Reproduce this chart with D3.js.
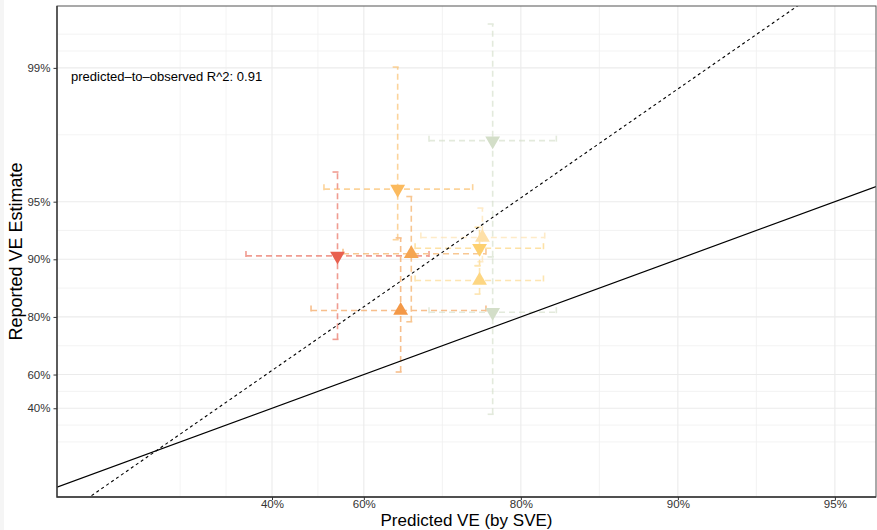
<!DOCTYPE html>
<html>
<head>
<meta charset="utf-8">
<script src="https://cdn.jsdelivr.net/npm/d3@7"></script>
<style>
  html, body { margin: 0; padding: 0; background: #ffffff; }
  svg { display: block; font-family: "Liberation Sans", Arial, sans-serif; }
</style>
</head>
<body>
<svg id="chart" width="877" height="530"></svg>
<script>
// ---------------- data (VE as fractions) ----------------
const pointIds   = ["A", "B", "C", "D", "E", "F", "G", "H", "I"];
const predVE     = [0.7735, 0.6555, 0.5507, 0.6756, 0.7630, 0.7600, 0.7600, 0.6600, 0.7735];
const predLo     = [0.700,  0.523,  0.327,  0.5615, 0.689,  0.681,  0.681,  0.495,  0.700];
const predHi     = [0.829,  0.7526, 0.700,  0.7667, 0.820,  0.819,  0.819,  0.7667, 0.829];
const reportVE   = [0.976,  0.957,  0.904,  0.9065, 0.923,  0.9125, 0.871,  0.815,  0.811];
const reportLo   = [0.903,  0.921,  0.738,  0.788,  0.897,  0.892,  0.848,  0.612,  0.355];
const reportHi   = [0.9941, 0.9901, 0.965,  0.953,  0.946,  0.932,  0.892,  0.9227, 0.903];
const direction  = ["down", "down", "down", "up", "up", "down", "up", "up", "down"];
const pointColor = ["#D3DEC8", "#FBBA5E", "#E8604F", "#F5A551", "#FEE0A8", "#FDD06F", "#FDD682", "#F39847", "#D3DEC8"];

const xTicks  = [0.40, 0.60, 0.80, 0.90, 0.95];
const yTicks  = [0.40, 0.60, 0.80, 0.90, 0.95, 0.99];
const xLimits = [-0.55, 0.9583];
const yLimits = [-0.745, 0.99525];

const fitSlope = 1.89;      // predicted-to-observed fit (transformed scale)
const fitIntercept = 0;
const r2Label = "predicted\u2013to\u2013observed R^2: 0.91";
const xTitle = "Predicted VE (by SVE)";
const yTitle = "Reported VE Estimate";

// ---------------- layout ----------------
const panel = { left: 57, right: 876, top: 6, bottom: 497 };
const tf = p => -Math.log(1 - p);

const x = d3.scaleLinear().domain(xLimits.map(tf)).range([panel.left, panel.right]);
const y = d3.scaleLinear().domain(yLimits.map(tf)).range([panel.bottom, panel.top]);

// ggplot-style minor breaks (midpoints, extended by one step)
function minorBreaks(majorT, dom) {
  let b = majorT.slice();
  const bd = b[1] - b[0];
  if (dom[0] < b[0]) b = [b[0] - bd].concat(b);
  if (dom[1] > b[b.length - 1]) b = b.concat([b[b.length - 1] + bd]);
  const out = [];
  for (let i = 0; i < b.length - 1; i++) { out.push(b[i]); out.push((b[i] + b[i + 1]) / 2); }
  out.push(b[b.length - 1]);
  return out.filter(v => v >= dom[0] && v <= dom[1] && !majorT.some(m => Math.abs(m - v) < 1e-9));
}

const svg = d3.select("#chart");
svg.append("rect").attr("x", 0).attr("y", 0).attr("width", 877).attr("height", 530).attr("fill", "#ffffff");
svg.append("rect").attr("x", 0).attr("y", 0).attr("width", 4).attr("height", 530).attr("fill", "#f5f5f5");

svg.append("defs").append("clipPath").attr("id", "clip")
  .append("rect").attr("x", panel.left).attr("y", panel.top)
  .attr("width", panel.right - panel.left).attr("height", panel.bottom - panel.top);

const xMajT = xTicks.map(tf), yMajT = yTicks.map(tf);
const xMinT = minorBreaks(xMajT, x.domain());
const yMinT = minorBreaks(yMajT, y.domain());

const grid = svg.append("g");
grid.selectAll(".xmin").data(xMinT).join("line")
  .attr("x1", d => x(d)).attr("x2", d => x(d)).attr("y1", panel.top).attr("y2", panel.bottom)
  .attr("stroke", "#f0f0f0").attr("stroke-width", 0.8);
grid.selectAll(".ymin").data(yMinT).join("line")
  .attr("y1", d => y(d)).attr("y2", d => y(d)).attr("x1", panel.left).attr("x2", panel.right)
  .attr("stroke", "#f0f0f0").attr("stroke-width", 0.8);
grid.selectAll(".xmaj").data(xMajT).join("line")
  .attr("x1", d => x(d)).attr("x2", d => x(d)).attr("y1", panel.top).attr("y2", panel.bottom)
  .attr("stroke", "#ebebeb").attr("stroke-width", 1.1);
grid.selectAll(".ymaj").data(yMajT).join("line")
  .attr("y1", d => y(d)).attr("y2", d => y(d)).attr("x1", panel.left).attr("x2", panel.right)
  .attr("stroke", "#ebebeb").attr("stroke-width", 1.1);

const data = pointIds.map((id, i) => ({
  id, px: tf(predVE[i]), pl: tf(predLo[i]), ph: tf(predHi[i]),
  ry: tf(reportVE[i]), rl: tf(reportLo[i]), rh: tf(reportHi[i]),
  dir: direction[i], col: pointColor[i]
}));

const plot = svg.append("g").attr("clip-path", "url(#clip)");
const capHalf = 5;
const dash = "6,4";
const eb = plot.append("g").attr("fill", "none").attr("stroke-width", 1.6).attr("stroke-dasharray", dash).attr("opacity", 0.62);
data.forEach(d => {
  const g = eb.append("g").attr("stroke", d.col);
  g.append("line").attr("x1", x(d.pl)).attr("x2", x(d.ph)).attr("y1", y(d.ry)).attr("y2", y(d.ry));
  g.append("line").attr("x1", x(d.pl)).attr("x2", x(d.pl)).attr("y1", y(d.ry) - capHalf).attr("y2", y(d.ry) + capHalf);
  g.append("line").attr("x1", x(d.ph)).attr("x2", x(d.ph)).attr("y1", y(d.ry) - capHalf).attr("y2", y(d.ry) + capHalf);
  g.append("line").attr("x1", x(d.px)).attr("x2", x(d.px)).attr("y1", y(d.rl)).attr("y2", y(d.rh));
  g.append("line").attr("x1", x(d.px) - capHalf).attr("x2", x(d.px) + capHalf).attr("y1", y(d.rl)).attr("y2", y(d.rl));
  g.append("line").attr("x1", x(d.px) - capHalf).attr("x2", x(d.px) + capHalf).attr("y1", y(d.rh)).attr("y2", y(d.rh));
});

const tri = d3.symbol().type(d3.symbolTriangle).size(95);
plot.append("g").selectAll("path").data(data).join("path")
  .attr("d", tri)
  .attr("transform", d => `translate(${x(d.px)},${y(d.ry)}) rotate(${d.dir === "down" ? 180 : 0})`)
  .attr("fill", d => d.col);

// reference lines
const xd = x.domain();
plot.append("line")
  .attr("x1", x(xd[0])).attr("y1", y(xd[0])).attr("x2", x(xd[1])).attr("y2", y(xd[1]))
  .attr("stroke", "#000").attr("stroke-width", 1.2);
plot.append("line")
  .attr("x1", x(xd[0])).attr("y1", y(fitIntercept + fitSlope * xd[0]))
  .attr("x2", x(xd[1])).attr("y2", y(fitIntercept + fitSlope * xd[1]))
  .attr("stroke", "#000").attr("stroke-width", 1.1).attr("stroke-dasharray", "3,3");

// annotation
svg.append("text").attr("x", 71).attr("y", 81).attr("font-size", 13).attr("fill", "#000").text(r2Label);

// panel border
svg.append("rect").attr("x", panel.left).attr("y", panel.top)
  .attr("width", panel.right - panel.left).attr("height", panel.bottom - panel.top)
  .attr("fill", "none").attr("stroke", "#555").attr("stroke-width", 1);
svg.append("path").attr("d", `M${panel.left},${panel.top}V${panel.bottom}H${panel.right}`)
  .attr("fill", "none").attr("stroke", "#333").attr("stroke-width", 1.3);

// axes
const fmt = d3.format(".0%");
const xAxis = d3.axisBottom(x).tickValues(xMajT).tickFormat((d, i) => fmt(xTicks[i])).tickSizeOuter(0).tickSize(3).tickPadding(0);
const yAxis = d3.axisLeft(y).tickValues(yMajT).tickFormat((d, i) => fmt(yTicks[i])).tickSizeOuter(0).tickSize(3.5).tickPadding(3);
const gx = svg.append("g").attr("transform", `translate(0,${panel.bottom})`).call(xAxis);
const gy = svg.append("g").attr("transform", `translate(${panel.left},0)`).call(yAxis);
[gx, gy].forEach(g => {
  g.select(".domain").remove();
  g.selectAll(".tick line").attr("stroke", "#333");
  g.selectAll(".tick text").attr("fill", "#333").attr("font-size", 11.5)
    .attr("font-family", "'Liberation Sans', Arial, sans-serif");
});

svg.append("text").attr("x", (panel.left + panel.right) / 2).attr("y", 526.4)
  .attr("text-anchor", "middle").attr("font-size", 17).attr("fill", "#000").text(xTitle);
svg.append("text").attr("transform", `translate(22,${(panel.top + panel.bottom) / 2}) rotate(-90)`)
  .attr("text-anchor", "middle").attr("font-size", 18).attr("fill", "#000").text(yTitle);
</script>
</body>
</html>
